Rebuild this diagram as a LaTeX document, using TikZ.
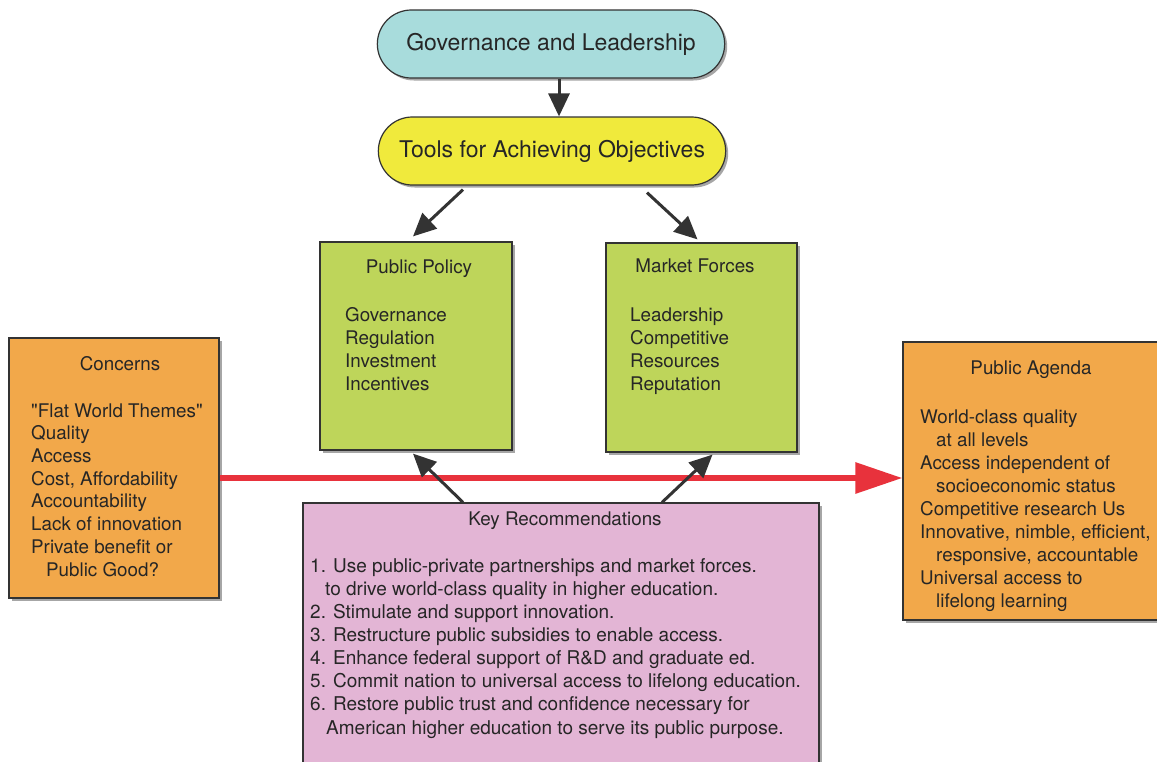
\documentclass[tikz,border=0pt]{standalone}
\usepackage{fontspec}
\setmainfont{TeX Gyre Heros}
\usetikzlibrary{arrows.meta,shadows,calc,shapes.misc}
\definecolor{govc}{HTML}{A8DCDC}
\definecolor{toolc}{HTML}{F0EA3C}
\definecolor{greenc}{HTML}{BED55A}
\definecolor{orangec}{HTML}{F2A84A}
\definecolor{pinkc}{HTML}{E3B5D5}
\definecolor{redc}{HTML}{E8323C}
\definecolor{darkc}{HTML}{333333}
\begin{document}
\begin{tikzpicture}[x=1pt,y=-1pt,
  shade/.style={drop shadow={shadow xshift=2.5pt,shadow yshift=-2.5pt,opacity=0.35,fill=black}},
  oval/.style={rounded rectangle,draw=darkc,line width=1.2pt,minimum width=354pt,minimum height=68pt,font=\fontsize{23}{27}\selectfont,text=black!85,shade},
  box/.style={rectangle,draw=darkc,line width=1.2pt,shade},
  title/.style={anchor=base,inner sep=0pt,font=\fontsize{18.8}{23}\selectfont,text=black!85},
  body/.style={anchor=north west,inner sep=0pt,align=left,text=black!85},
  arr/.style={draw=darkc,line width=3pt,-{Triangle[length=23pt,width=21pt]}},
  redarr/.style={draw=redc,line width=6pt,-{Triangle[length=47pt,width=30pt]}}]
\clip (0,0) rectangle (1157,761);
\fill[white] (0,0) rectangle (1157,761);

% ovals
\node[oval,fill=govc] (gov) at (551,44) {Governance and Leadership};
\node[oval,fill=toolc] (tools) at (552,151) {Tools for Achieving Objectives};

% boxes
\node[box,fill=greenc,minimum width=192pt,minimum height=208pt] (pp) at (416,346) {};
\node[box,fill=greenc,minimum width=191pt,minimum height=209pt] (mf) at (701.5,347.5) {};
\node[box,fill=orangec,minimum width=210pt,minimum height=260pt] (conc) at (114,468) {};
\node[box,fill=orangec,minimum width=267pt,minimum height=278pt] (pa) at (1036.5,481) {};
\node[box,fill=pinkc,minimum width=516pt,minimum height=277pt] (kr) at (561,641.5) {};

% texts
\node[title] (pptitle) at (419,273) {Public Policy};
\node[body,font=\fontsize{18.8}{23}\selectfont] (ppbody) at (345,304.9)
  {\strut Governance\\Regulation\\Investment\\Incentives};
\node[title] (mftitle) at (695,272) {Market Forces};
\node[body,font=\fontsize{18.8}{23}\selectfont] (mfbody) at (630,304.9)
  {\strut Leadership\\Competitive\\Resources\\Reputation};
\node[title] (conctitle) at (120,370) {Concerns};
\node[body,font=\fontsize{18.8}{22.7}\selectfont] (concbody) at (31,401.1)
  {\strut \textquotedbl Flat World Themes\textquotedbl\\Quality\\Access\\Cost, Affordability\\Accountability\\Lack of innovation\\Private benefit or\\\hspace*{15pt}Public Good?};
\node[title] (patitle) at (1031,374) {Public Agenda};
\node[body,font=\fontsize{18.8}{23.1}\selectfont] (pabody) at (920,406.8)
  {\strut World-class quality\\\hspace*{16pt}at all levels\\Access independent of\\\hspace*{16pt}socioeconomic status\\Competitive research Us\\Innovative, nimble, efficient,\\\hspace*{16pt}responsive, accountable\\Universal access to\\\hspace*{16pt}lifelong learning};
\node[title] (krtitle) at (565,525) {Key Recommendations};
\node[body,font=\fontsize{19}{23.1}\selectfont] (krbody) at (310,556)
  {\strut 1. Use public-private partnerships and market forces.\\\hspace*{15pt}to drive world-class quality in higher education.\\2. Stimulate and support innovation.\\3. Restructure public subsidies to enable access.\\4. Enhance federal support of R\&D and graduate ed.\\5. Commit nation to universal access to lifelong education.\\6. Restore public trust and confidence necessary for\\\hspace*{16pt}American higher education to serve its public purpose.};

% connectors
\draw[redarr] ([yshift=-10pt]conc.east) -- ([yshift=-10pt]conc.east -| pa.west);
\draw[arr] ([xshift=8pt]gov.south) -- ([xshift=8pt]gov.south |- tools.north);
\draw[arr] ([xshift=-89pt,yshift=-4pt]tools.south) -- ([xshift=-3pt,yshift=5pt]pp.north);
\draw[arr] ([xshift=95pt,yshift=-7pt]tools.south) -- ([xshift=-4pt,yshift=3pt]mf.north);
\draw[arr] ([xshift=-98pt]kr.north) -- ([xshift=-3pt,yshift=-3pt]pp.south);
\draw[arr] ([xshift=101pt]kr.north) -- ([xshift=11pt,yshift=-2pt]mf.south);
\end{tikzpicture}
\end{document}
